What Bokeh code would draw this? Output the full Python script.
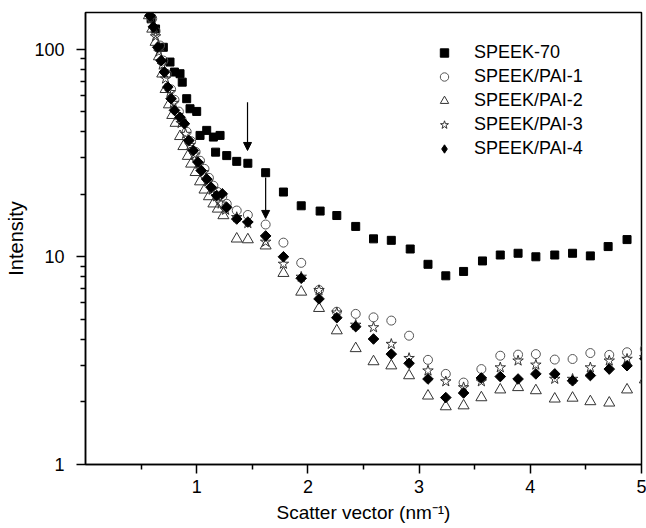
import math
from bokeh.plotting import figure
from bokeh.models import (Range1d, FixedTicker, Legend, LegendItem, Arrow, NormalHead,
                          PrintfTickFormatter)
from bokeh.embed import file_html
from bokeh.resources import INLINE

# ---------------- data ----------------
x_speek70 = [0.59, 0.63, 0.70, 0.76, 0.80, 0.85, 0.87, 0.91, 0.94, 1.00,
             1.03, 1.09, 1.15, 1.17, 1.21, 1.27, 1.36, 1.46, 1.62, 1.78,
             1.94, 2.11, 2.26, 2.43, 2.59, 2.75, 2.92, 3.08, 3.24, 3.40,
             3.57, 3.73, 3.89, 4.05, 4.22, 4.38, 4.54, 4.70, 4.87]
y_speek70 = [140, 125, 102, 86.6, 77.5, 76.1, 69.3, 57.7, 51.6, 50.1,
             38.4, 40.6, 37.7, 31.9, 38.4, 30.7, 28.8, 28.2, 25.4, 20.5,
             17.6, 16.6, 15.8, 14.0, 12.2, 12.0, 10.9, 9.2, 8.1, 8.5,
             9.55, 10.2, 10.4, 10.0, 10.2, 10.4, 10.1, 11.2, 12.1]

x_pai1 = [0.60, 0.63, 0.67, 0.70, 0.73, 0.77, 0.80, 0.84, 0.87, 0.91,
          0.95, 0.99, 1.03, 1.07, 1.11, 1.15, 1.19, 1.23, 1.27,
          1.36, 1.46, 1.62, 1.78, 1.94, 2.10, 2.26, 2.43, 2.59, 2.75,
          2.91, 3.08, 3.24, 3.40, 3.56, 3.73, 3.89, 4.05, 4.22, 4.38,
          4.54, 4.71, 4.87, 5.03]
y_pai1 = [140, 122, 104, 88, 76, 64, 57, 50, 45, 40,
          36, 32, 29, 26.5, 24, 22, 20.5, 19.5, 18,
          16.7, 15.9, 14.3, 11.7, 9.35, 6.92, 5.44, 5.31, 5.11, 4.93,
          4.17, 3.19, 2.73, 2.48, 2.88, 3.34, 3.38, 3.40, 3.20, 3.22,
          3.44, 3.37, 3.47, 3.60]

x_pai2 = [0.57, 0.60, 0.63, 0.66, 0.69, 0.72, 0.75, 0.78, 0.81, 0.85,
          0.88, 0.92, 0.95, 0.99, 1.03, 1.07, 1.11, 1.15, 1.19, 1.24,
          1.36, 1.46, 1.62, 1.78, 1.94, 2.10, 2.26, 2.43, 2.59, 2.75,
          2.91, 3.08, 3.24, 3.40, 3.56, 3.73, 3.89, 4.05, 4.22, 4.38,
          4.54, 4.71, 4.87, 5.03]
y_pai2 = [145, 125, 108, 92, 76, 64, 54, 48, 44, 38,
          34, 30.5, 28, 25.5, 23, 21, 19.5, 18, 17, 15.8,
          12.2, 12.1, 11.3, 8.33, 6.77, 5.65, 4.41, 3.62, 3.13, 2.99,
          2.68, 2.14, 1.90, 1.92, 2.10, 2.29, 2.35, 2.27, 2.07, 2.09,
          2.01, 1.98, 2.29, 2.56]

x_pai3 = [0.59, 0.63, 0.66, 0.69, 0.72, 0.76, 0.79, 0.83, 0.86, 0.90,
          0.94, 0.98, 1.02, 1.06, 1.10, 1.14, 1.18, 1.22, 1.26,
          1.36, 1.46, 1.62, 1.78, 1.94, 2.10, 2.26, 2.43, 2.59, 2.75,
          2.91, 3.08, 3.24, 3.40, 3.56, 3.73, 3.89, 4.05, 4.22, 4.38,
          4.54, 4.71, 4.87, 5.03]
y_pai3 = [140, 115, 97, 84, 72, 62, 55, 48, 44, 39,
          34.5, 31, 28, 25.5, 23, 21, 19.5, 18, 16.8,
          15.5, 14.5, 11.8, 9.24, 8.0, 6.9, 5.38, 4.7, 4.57, 3.80,
          3.25, 2.83, 2.51, 2.35, 2.51, 2.93, 3.16, 3.02, 2.58, 2.58,
          2.93, 3.16, 3.22, 3.28]

x_pai4 = [0.58, 0.61, 0.65, 0.68, 0.71, 0.74, 0.77, 0.80, 0.85, 0.89,
          0.93, 0.97, 1.01, 1.04, 1.09, 1.13, 1.18, 1.23, 1.27,
          1.36, 1.46, 1.62, 1.78, 1.94, 2.10, 2.26, 2.43, 2.59, 2.75,
          2.91, 3.08, 3.24, 3.40, 3.56, 3.73, 3.89, 4.05, 4.22, 4.38,
          4.54, 4.71, 4.87, 5.03]
y_pai4 = [145, 128, 102, 88, 77.5, 65.6, 57.7, 50.7, 47, 43.7,
          36.3, 32.5, 28.6, 26.0, 23.7, 21.6, 19.7, 20.1, 17.3,
          15.2, 14.7, 12.6, 10.0, 7.88, 6.27, 5.09, 4.61, 4.02, 3.40,
          3.07, 2.58, 2.10, 2.21, 2.61, 2.65, 2.58, 2.73, 2.73, 2.53,
          2.68, 2.88, 2.99, 3.23]

series_names = ["SPEEK-70", "SPEEK/PAI-1", "SPEEK/PAI-2", "SPEEK/PAI-3", "SPEEK/PAI-4"]

x_ticks = [1, 2, 3, 4, 5]
x_minor = [0.5, 1.5, 2.5, 3.5, 4.5]
y_ticks = [1, 10, 100]
y_minor = [2, 3, 4, 5, 6, 7, 8, 9, 20, 30, 40, 50, 60, 70, 80, 90]

# arrows: x, y_start, y_end
arrow_x = [1.457, 1.62]
arrow_y0 = [55.5, 24.1]
arrow_y1 = [32.5, 15.3]

FONT = "Liberation Sans"

p = figure(width=646, height=528, output_backend="svg", toolbar_location=None,
           x_range=Range1d(0, 5), y_range=Range1d(1, 150), y_axis_type="log",
           min_border_left=85, min_border_right=5, min_border_top=12, min_border_bottom=64)
p.background_fill_color = "white"
p.border_fill_color = "white"
p.outline_line_color = "black"
p.outline_line_width = 1.5
p.xgrid.visible = False
p.ygrid.visible = False

r70 = p.scatter(x_speek70, y_speek70, marker="square", size=8,
                fill_color="black", line_color="black")
r1 = p.scatter(x_pai1, y_pai1, marker="circle", size=9,
               fill_color=None, line_color="#555555", line_width=1)
r2 = p.scatter(x_pai2, y_pai2, marker="triangle", size=11,
               fill_color=None, line_color="#333333", line_width=1)
r3 = p.scatter(x_pai3, y_pai3, marker="star", size=11,
               fill_color=None, line_color="#333333", line_width=1)
r4 = p.scatter(x_pai4, y_pai4, marker="square", size=7.5, angle=math.pi / 4,
               fill_color="black", line_color="black")
# legend swatch for the diamond series (legend swatches ignore marker rotation)
r4_key = p.scatter(x_pai4, y_pai4, marker="diamond", size=15,
                   fill_color="black", line_color="black", visible=False)

for xa, ya0, ya1 in zip(arrow_x, arrow_y0, arrow_y1):
    p.add_layout(Arrow(end=NormalHead(size=8, fill_color="black", line_color="black", line_width=1),
                       x_start=xa, y_start=ya0, x_end=xa, y_end=ya1,
                       line_color="black", line_width=1.2))

# axes
p.xaxis.ticker = FixedTicker(ticks=x_ticks, minor_ticks=x_minor)
p.yaxis.ticker = FixedTicker(ticks=y_ticks, minor_ticks=y_minor)
p.yaxis.formatter = PrintfTickFormatter(format="%d")
for ax in (p.xaxis[0], p.yaxis[0]):
    ax.axis_line_color = "black"
    ax.axis_line_width = 1.5
    ax.major_tick_line_color = "black"
    ax.major_tick_line_width = 1.5
    ax.minor_tick_line_color = "black"
    ax.minor_tick_line_width = 1.5
    ax.major_tick_in = 0
    ax.major_tick_out = 9
    ax.minor_tick_in = 0
    ax.minor_tick_out = 5
    ax.major_label_text_font = FONT
    ax.major_label_text_font_size = "18px"
    ax.major_label_text_color = "black"
    ax.axis_label_text_font = FONT
    ax.axis_label_text_font_size = "19px"
    ax.axis_label_text_font_style = "normal"
    ax.axis_label_text_color = "black"
p.yaxis.axis_label_text_font_size = "20px"
p.xaxis.axis_label = "Scatter vector (nm⁻¹)"
p.yaxis.axis_label = "Intensity"
p.xaxis.major_label_standoff = 6
p.yaxis.major_label_standoff = 12
p.xaxis.axis_label_standoff = 6
p.yaxis.axis_label_standoff = 4

legend = Legend(items=[LegendItem(label=n, renderers=[r]) for n, r in
                       zip(series_names, [r70, r1, r2, r3, r4_key])],
                location=(347, 305))
legend.padding = 0
legend.margin = 0
legend.spacing = 3
legend.glyph_width = 24
legend.glyph_height = 21
legend.label_height = 21
legend.label_standoff = 18
legend.label_text_font = FONT
legend.label_text_font_size = "18px"
legend.label_text_color = "black"
legend.border_line_alpha = 0
legend.background_fill_alpha = 0
p.add_layout(legend)

open("out.html", "w").write(file_html(p, INLINE))
